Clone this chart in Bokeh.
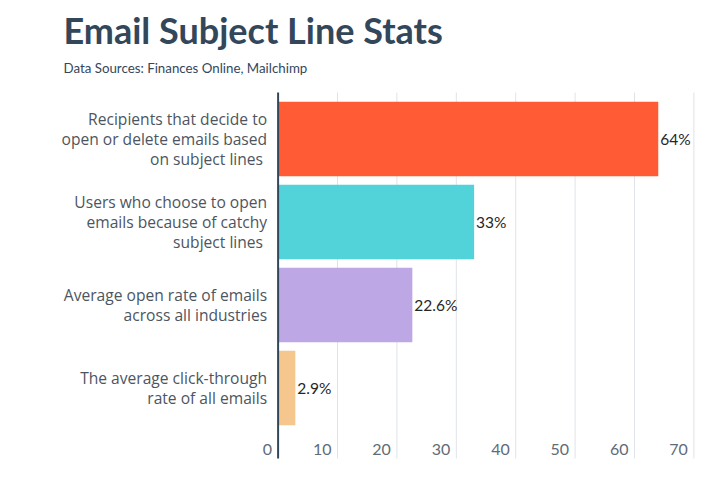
from bokeh.plotting import figure
from bokeh.models import ColumnDataSource, LabelSet, Range1d
from bokeh.core.properties import value
from bokeh.embed import file_html
from bokeh.resources import INLINE

categories = [
    "Recipients that decide to\nopen or delete emails based\non subject lines ",
    "Users who choose to open\nemails because of catchy\nsubject lines ",
    "Average open rate of emails\nacross all industries",
    "The average click-through\nrate of all emails",
]
values = [64, 33, 22.6, 2.9]
value_labels = ["64%", "33%", "22.6%", "2.9%"]
colors = ["#FF5C35", "#51D3D9", "#BDA7E5", "#F5C78E"]
x_ticks = [0, 10, 20, 30, 40, 50, 60, 70]
tick_labels = [str(t) for t in x_ticks]
title_text = "Email Subject Line Stats"
subtitle_text = "Data Sources: Finances Online, Mailchimp"

FONT = "Lato"
CAT_FONT = "Open Sans"
DARK = "#33475B"
W, H = 720, 477

# layout: pixel position of value 0, pixels per unit, pixel row of first bar, row pitch
PX0, PXU = 277.6, 5.94
PY0, PYU = 138.5, 83.0
LINE_PX = 20.0


def dx(px):
    return (px - PX0) / PXU


def dy(py):
    return (py - PY0) / PYU


Y_TOP, Y_BOT = dy(92), dy(458)

pos = list(range(len(categories)))
src = ColumnDataSource(dict(pos=pos, value=values, label=value_labels,
                            color=colors, zero=[0] * len(pos)))

# one row per text line of each category label, centred on its bar
line_y, line_txt = [], []
for i, cat in enumerate(categories):
    lines = cat.split("\n")
    n = len(lines)
    for j, ln in enumerate(lines):
        line_y.append(i + (j - (n - 1) / 2) * LINE_PX / PYU)
        line_txt.append(ln)
cat_src = ColumnDataSource(dict(y=line_y, text=line_txt, x=[0] * len(line_y)))

grid_ticks = x_ticks[1:]
grid_src = ColumnDataSource(dict(x=grid_ticks, y0=[Y_TOP] * len(grid_ticks),
                                 y1=[Y_BOT] * len(grid_ticks)))
tick_src = ColumnDataSource(dict(x=x_ticks, label=tick_labels,
                                 y=[dy(454)] * len(x_ticks)))
title_src = ColumnDataSource(dict(x=[dx(63)], y=[dy(43)], text=[title_text]))
sub_src = ColumnDataSource(dict(x=[dx(63)], y=[dy(72)], text=[subtitle_text]))

p = figure(width=W, height=H, output_backend="svg", toolbar_location=None,
           x_axis_type=None, y_axis_type=None,
           x_range=Range1d(dx(0), dx(W)), y_range=Range1d(dy(H), dy(0)),
           min_border_left=0, min_border_right=0,
           min_border_top=0, min_border_bottom=0)
p.outline_line_color = None
p.background_fill_color = "white"
p.border_fill_color = "white"

p.segment(x0="x", x1="x", y0="y0", y1="y1", source=grid_src,
          line_color="#dfe3e8", line_width=1)

p.hbar(y="pos", left="zero", right="value", height=0.9, color="color",
       line_color=None, source=src)

p.segment(x0=[0], x1=[0], y0=[Y_TOP], y1=[Y_BOT], line_color=DARK, line_width=2)

p.add_layout(LabelSet(x="value", y="pos", text="label", source=src,
                      x_offset=2, text_align="left", text_baseline="middle",
                      text_font=value(FONT), text_font_size="15.5px", text_color="#262626"))

p.add_layout(LabelSet(x="x", y="y", text="text", source=cat_src,
                      x_offset=-11, text_align="right", text_baseline="middle",
                      text_font=value(CAT_FONT), text_font_size="15.6px",
                      text_color="#4d5560"))

p.add_layout(LabelSet(x="x", y="y", text="label", source=tick_src,
                      x_offset=-6, text_align="right", text_baseline="alphabetic",
                      text_font=value(FONT), text_font_size="16px", text_color="#5f6b77"))

p.add_layout(LabelSet(x="x", y="y", text="text", source=title_src,
                      text_font=value(FONT), text_font_style="bold",
                      text_font_size="36px", text_color=DARK,
                      text_baseline="alphabetic"))
p.add_layout(LabelSet(x="x", y="y", text="text", source=sub_src,
                      text_font=value(FONT), text_font_size="13.3px",
                      text_color=DARK, text_baseline="alphabetic"))

open("out.html", "w").write(file_html(p, INLINE))
